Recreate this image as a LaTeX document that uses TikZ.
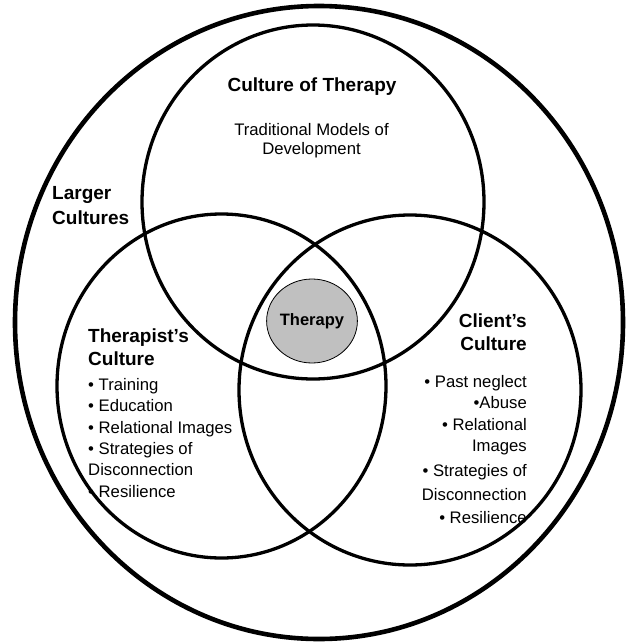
\documentclass[tikz,border=0pt]{standalone}
\usepackage{fontspec}
\setmainfont{Liberation Sans}
\usetikzlibrary{shapes.geometric}
\definecolor{therapygray}{RGB}{192,192,192}
\begin{document}
\begin{tikzpicture}[x=1pt,y=-1pt,
  ring/.style={draw=black, line width=3.3pt},
  outerring/.style={draw=black, line width=4.6pt},
  heading/.style={font=\fontsize{19}{23}\selectfont\bfseries, inner sep=0pt},
  body/.style={font=\fontsize{16.7}{21.4}\selectfont, inner sep=0pt},
]
\fill[white] (0,0) rectangle (628,643);
\useasboundingbox (0,0) rectangle (628,643);

% the surrounding culture and the three overlapping cultures
\draw[outerring] (319,322.5) ellipse [x radius=304pt, y radius=316.5pt];
\draw[ring] (313,202) ellipse [x radius=171pt, y radius=177pt];
\draw[ring] (221.5,386) ellipse [x radius=164.5pt, y radius=172pt];
\draw[ring] (410,390) ellipse [x radius=171pt, y radius=175pt];

% the shared space in the middle
\node[ellipse, draw, line width=0.8pt, fill=therapygray, minimum width=88pt,
      minimum height=84pt, inner sep=0pt,
      font=\fontsize{16.5}{20}\selectfont\bfseries] (therapy) at (312,321) {Therapy};

% labels
\node[heading, anchor=base] (cot) at (312,91) {Culture of Therapy};
\node[body, anchor=north, align=center, font=\fontsize{16.7}{19.3}\selectfont]
  (models) at (311.5,122.8) {Traditional Models of\\Development};

\node[heading, anchor=north west, align=left, font=\fontsize{19}{25}\selectfont\bfseries]
  (larger) at (52,186.4) {Larger\\Cultures};

\node[heading, anchor=north west, align=left] (tc) at (88,329) {Therapist’s\\Culture};
\node[body, anchor=north west, align=left] (tclist) at (88,378)
  {• Training\\• Education\\• Relational Images\\• Strategies of\\Disconnection\\• Resilience};

\node[heading, anchor=north east, align=right] (cc) at (527,314) {Client’s\\Culture};
\node[body, anchor=north east, align=right] (cclist) at (527,375)
  {• Past neglect\\•Abuse\\• Relational\\Images\\[4pt]• Strategies of\\[2pt]Disconnection\\[2pt]• Resilience};
\end{tikzpicture}
\end{document}
